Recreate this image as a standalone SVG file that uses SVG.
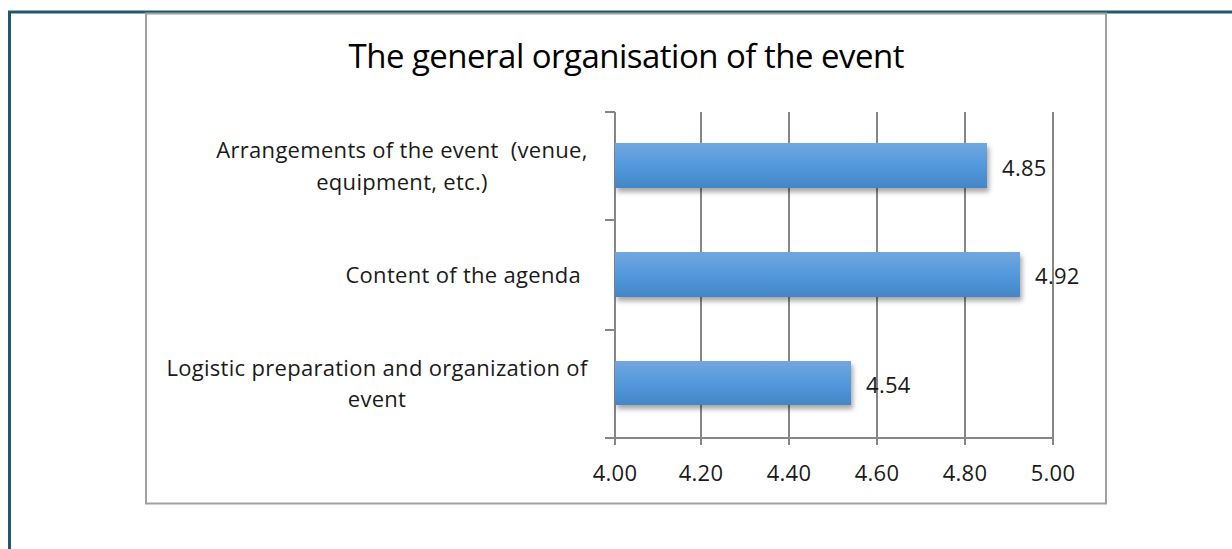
<svg xmlns="http://www.w3.org/2000/svg" width="1232" height="549" viewBox="0 0 1232 549">
<defs>
<linearGradient id="barGrad" x1="0" y1="0" x2="0" y2="1">
<stop offset="0" stop-color="#72a7de"/>
<stop offset="0.5" stop-color="#5399dc"/>
<stop offset="1" stop-color="#4386c6"/>
</linearGradient>
<filter id="shadow" x="-5%" y="-20%" width="110%" height="160%">
<feDropShadow dx="2" dy="4" stdDeviation="2.5" flood-color="#000" flood-opacity="0.35"/>
</filter>
</defs>
<style>
.grid{stroke:#868686;stroke-width:2;fill:none}
.lbl{font-family:"Open Sans","Liberation Sans",sans-serif;font-size:22px;letter-spacing:0.3px;fill:#1a1a1a}
.bar{fill:url(#barGrad);filter:url(#shadow)}
</style>
<rect x="0" y="0" width="1232" height="549" fill="#fff"/>
<path d="M9.5 549 V12 H1232" fill="none" stroke="#215968" stroke-width="3"/>
<rect id="chart-frame" x="146" y="13.5" width="960" height="490" fill="#fff" stroke="#a0a0a0" stroke-width="2"/>
<text id="title" x="626" y="68" text-anchor="middle" font-family="Open Sans, Liberation Sans, sans-serif" font-size="33" fill="#000" letter-spacing="-1" textLength="555" lengthAdjust="spacing">The general organisation of the event</text>
<g id="connectors">
<path class="grid" d="M701 112 V445 M789 112 V445 M877 112 V445 M965 112 V445 M1053 112 V445"/>
<path class="grid" d="M615 112 V445 M605 112 H615 M605 220 H615 M605 330 H615 M605 438 H1053"/>
</g>
<g id="bar-arrangements">
<rect class="bar" x="615" y="143" width="372" height="45"/>
<text class="lbl" x="1002" y="176">4.85</text>
<text class="lbl" x="402" y="158" text-anchor="middle">Arrangements of the event&#160; (venue,</text>
<text class="lbl" x="402" y="190" text-anchor="middle">equipment, etc.)</text>
</g>
<g id="bar-content">
<rect class="bar" x="615" y="252" width="405" height="45"/>
<text class="lbl" x="1035" y="284">4.92</text>
<text class="lbl" x="581" y="283" text-anchor="end">Content of the agenda</text>
</g>
<g id="bar-logistic">
<rect class="bar" x="615" y="361" width="236" height="44"/>
<text class="lbl" x="866" y="393">4.54</text>
<text class="lbl" x="377" y="376" text-anchor="middle">Logistic preparation and organization of</text>
<text class="lbl" x="377" y="407" text-anchor="middle">event</text>
</g>
<g id="x-axis-labels">
<text class="lbl" x="615" y="481" text-anchor="middle">4.00</text>
<text class="lbl" x="701" y="481" text-anchor="middle">4.20</text>
<text class="lbl" x="789" y="481" text-anchor="middle">4.40</text>
<text class="lbl" x="877" y="481" text-anchor="middle">4.60</text>
<text class="lbl" x="965" y="481" text-anchor="middle">4.80</text>
<text class="lbl" x="1053" y="481" text-anchor="middle">5.00</text>
</g>
</svg>
